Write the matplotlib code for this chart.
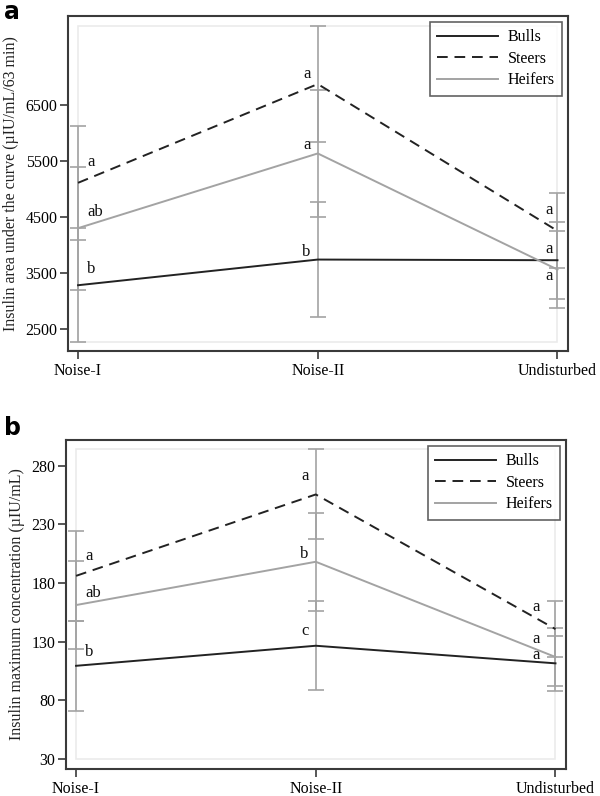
import matplotlib
matplotlib.use("Agg")
import matplotlib.pyplot as plt
from matplotlib.patches import Rectangle
import numpy as np

# Categories and groups
periods = ["Noise-I", "Noise-II", "Undisturbed"]
groups = ["Bulls", "Steers", "Heifers"]

# Panel a: insulin AUC (means and SD)
auc_bulls = [3286, 3744, 3732]
auc_steers = [5113, 6875, 4256]
auc_heifers = [4304, 5637, 3566]
auc_bulls_sd = [1016, 1019, 688]
auc_steers_sd = [1012, 1036, 667]
auc_heifers_sd = [1098, 1131, 691]
auc_bulls_letters = ["b", "b", "a"]
auc_steers_letters = ["a", "a", "a"]
auc_heifers_letters = ["ab", "a", "a"]
auc_ticks = [2500, 3500, 4500, 5500, 6500]

# Panel b: insulin maximum concentration (means and SD)
max_bulls = [109.5, 126.6, 111.6]
max_steers = [186.2, 255.6, 140.8]
max_heifers = [161.3, 198.2, 117.0]
max_bulls_sd = [38.3, 37.8, 23.6]
max_steers_sd = [38.1, 38.4, 23.8]
max_heifers_sd = [37.5, 41.8, 24.4]
max_bulls_letters = ["b", "c", "a"]
max_steers_letters = ["a", "a", "a"]
max_heifers_letters = ["ab", "b", "a"]
max_ticks = [30, 80, 130, 180, 230, 280]

# styling
plt.rcParams['font.family'] = ['Liberation Serif', 'DejaVu Serif']
DARK = '#222222'
GREY = '#a3a3a3'
FRAME = '#3a3a3a'
styles = {
    'Bulls': dict(color=DARK, ls='-', lw=1.4),
    'Steers': dict(color=DARK, ls=(0, (5.5, 3.5)), lw=1.4),
    'Heifers': dict(color=GREY, ls='-', lw=1.4),
}

# label offsets in pixels (dx, dy) per group and period, and alignment per period
offs_a = {
    'Bulls': [(9, 8), (-7, 0), (-8, 3)],
    'Steers': [(9, 13), (-7, 2), (-8, 13)],
    'Heifers': [(9, 8), (-7, 0), (-8, -14)],
}
offs_b = {
    'Bulls': [(9, 6), (-7, 7), (-19, 0)],
    'Steers': [(9, 12), (-7, 10), (-19, 14)],
    'Heifers': [(9, 4), (-7, 0), (-19, 10)],
}
ha_per_period = ['left', 'right', 'center']


def draw_panel(ax, means, sds, letters, offs, ticks, ylim, ylabel, panel, label_top):
    x = np.arange(len(periods))
    lows, highs = [], []
    for g in groups:
        m = np.array(means[g])
        s = np.array(sds[g])
        ax.errorbar(x, m, yerr=s, fmt='none', ecolor=GREY, elinewidth=1.2,
                    capsize=6, capthick=1.2, zorder=2)
        lows.append((m - s).min())
        highs.append((m + s).max())
    for g in groups:
        ax.plot(x, means[g], label=g, zorder=3, **styles[g])
        for i, (val, lab) in enumerate(zip(means[g], letters[g])):
            ax.annotate(lab, (x[i], val), xytext=offs[g][i],
                        textcoords='offset pixels', ha=ha_per_period[i],
                        va='bottom', fontsize=12, color='#111111')

    # light inner wall around the data area
    lo = min(min(lows), min(ticks))
    hi = max(highs)
    ax.add_patch(Rectangle((0, lo), 2, hi - lo, fill=False,
                           edgecolor='#ebebeb', lw=1.2, zorder=0))

    ax.set_xlim(-0.042, 2.044)
    ax.set_ylim(*ylim)
    ax.set_xticks(x)
    ax.set_xticklabels(periods, fontsize=11.5)
    ax.set_yticks(ticks)
    ax.tick_params(axis='y', labelsize=11.5, length=6, width=1.2,
                   color=FRAME, pad=1.5)
    ax.tick_params(axis='x', length=6, width=1.2, color=FRAME, pad=2.5)
    for sp in ax.spines.values():
        sp.set_color(FRAME)
        sp.set_linewidth(1.5)
    ax.set_ylabel(ylabel, fontsize=11.5, labelpad=5, color='#222222')

    leg = ax.legend(loc='upper right', fontsize=11.5, frameon=True,
                    fancybox=False, borderaxespad=0.38, handlelength=3.8,
                    handletextpad=0.6, labelspacing=0.35, borderpad=0.45)
    leg.get_frame().set_edgecolor(FRAME)
    leg.get_frame().set_linewidth(1.2)

    ax.figure.text(0.007, 1 - label_top / 796, panel,
                   fontsize=17, fontweight='bold', family='DejaVu Sans',
                   va='top', ha='left')


fig = plt.figure(figsize=(6, 7.96), dpi=100)
ax_a = fig.add_axes([0.1133, 0.5590, 0.8334, 0.4209])
ax_b = fig.add_axes([0.1100, 0.0339, 0.8334, 0.4133])

draw_panel(ax_a,
           {'Bulls': auc_bulls, 'Steers': auc_steers, 'Heifers': auc_heifers},
           {'Bulls': auc_bulls_sd, 'Steers': auc_steers_sd, 'Heifers': auc_heifers_sd},
           {'Bulls': auc_bulls_letters, 'Steers': auc_steers_letters,
            'Heifers': auc_heifers_letters},
           offs_a, auc_ticks, (2112, 8089),
           'Insulin area under the curve (µIU/mL/63 min)', 'a', 0)

draw_panel(ax_b,
           {'Bulls': max_bulls, 'Steers': max_steers, 'Heifers': max_heifers},
           {'Bulls': max_bulls_sd, 'Steers': max_steers_sd, 'Heifers': max_heifers_sd},
           {'Bulls': max_bulls_letters, 'Steers': max_steers_letters,
            'Heifers': max_heifers_letters},
           offs_b, max_ticks, (21.5, 302),
           'Insulin maximum concentration (µIU/mL)', 'b', 416)

fig.savefig('out.png', dpi=100)
